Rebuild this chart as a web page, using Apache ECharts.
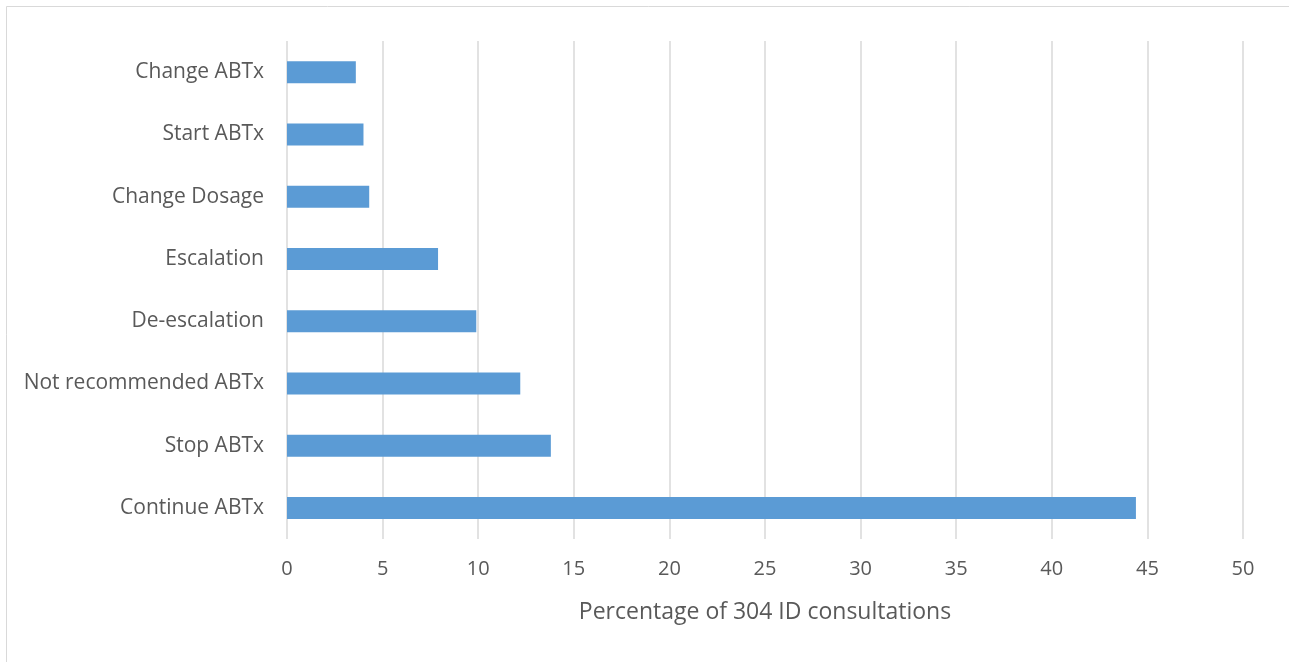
<!DOCTYPE html>
<html><head><meta charset="utf-8">
<script src="https://cdn.jsdelivr.net/npm/echarts@6/dist/echarts.min.js"></script>
<style>html,body{margin:0;padding:0;background:#fff}#c{width:1289px;height:662px}</style>
</head><body><div id="c"></div>
<script>
const categories = ['Continue ABTx','Stop ABTx','Not recommended ABTx','De-escalation','Escalation','Change Dosage','Start ABTx','Change ABTx'];
const values = [44.4, 13.8, 12.2, 9.9, 7.9, 4.3, 4.0, 3.6];
const xTicks = [0,5,10,15,20,25,30,35,40,45,50];
const axisTitle = 'Percentage of 304 ID consultations';

const chart = echarts.init(document.getElementById('c'), null, {renderer:'canvas'});
const font = '"Open Sans"';
chart.setOption({
  animation:false,
  backgroundColor:'#fff',
  graphic:[{type:'rect', shape:{x:6.5,y:6.5,width:1320,height:720}, style:{fill:'none', stroke:'#d9d9d9', lineWidth:1}}],
  grid:{left:287, right:46, top:41, bottom:123},
  xAxis:{type:'value', min:xTicks[0], max:xTicks[xTicks.length-1], interval:5,
    axisLine:{show:false}, axisTick:{show:false},
    splitLine:{lineStyle:{color:'#d9d9d9', width:1.5}},
    axisLabel:{color:'#595959', fontSize:20, fontFamily:font, margin:20},
    name:axisTitle, nameLocation:'middle', nameGap:62,
    nameTextStyle:{color:'#595959', fontSize:23, fontFamily:font}},
  yAxis:{type:'category', data:categories,
    axisLine:{show:false}, axisTick:{show:false},
    axisLabel:{color:'#595959', fontSize:21, fontFamily:font, margin:23}},
  series:[{type:'bar', data:values, barWidth:22, itemStyle:{color:'#5b9bd5'}}]
});
</script></body></html>
